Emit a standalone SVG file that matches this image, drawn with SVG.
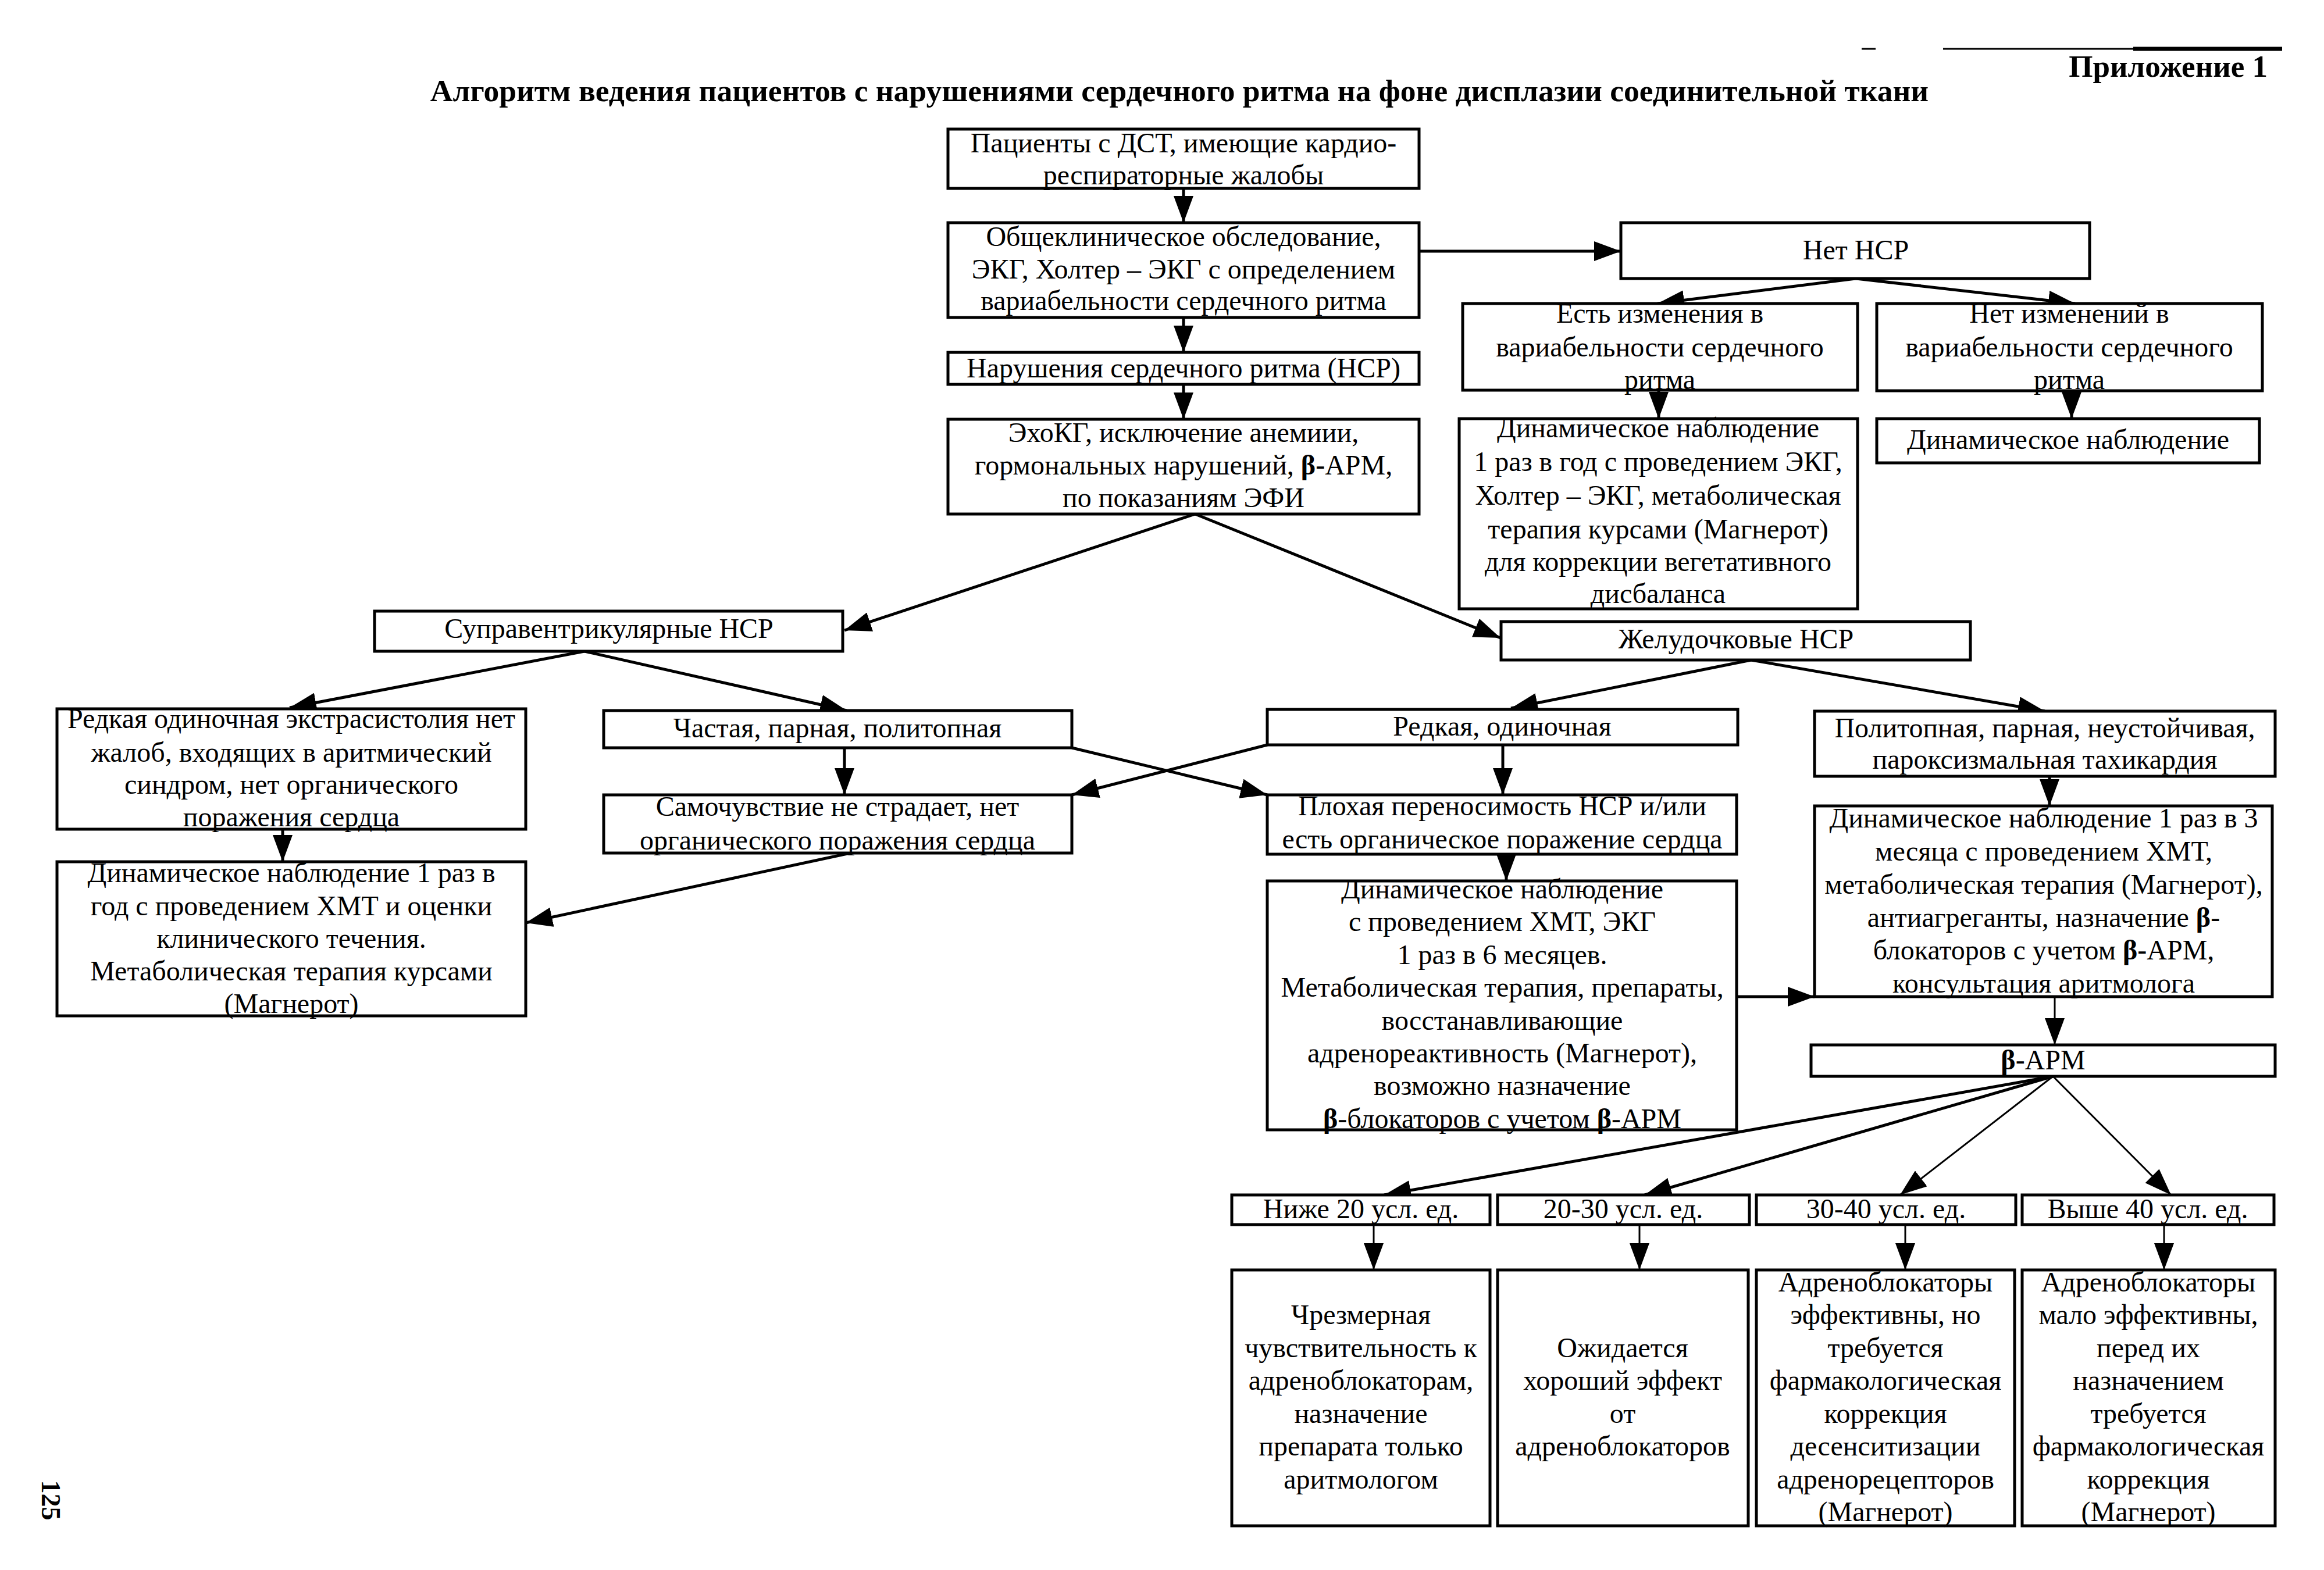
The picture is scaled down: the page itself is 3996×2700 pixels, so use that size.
<svg xmlns="http://www.w3.org/2000/svg" width="3996" height="2700" viewBox="0 0 3996 2700">
<style>
.b{fill:#fff;stroke:#000;stroke-width:5}
.t{font-family:"Liberation Serif","Times New Roman",serif;font-size:48px;text-anchor:middle;fill:#000}
.h{font-family:"Liberation Serif","Times New Roman",serif;font-weight:bold;fill:#000}
.c{stroke:#000;stroke-width:5;fill:none;marker-end:url(#ah)}
.c3{stroke:#000;stroke-width:3;fill:none;marker-end:url(#ah)}
.bb{font-weight:bold}
</style>
<defs>
<marker id="ah" markerUnits="userSpaceOnUse" markerWidth="46" markerHeight="34" refX="46" refY="17" orient="auto"><path d="M0,0 L46,17 L0,34 z" fill="#000"/></marker>
</defs>
<rect x="0" y="0" width="3996" height="2700" fill="#fff"/>
<g id="header">
<line x1="3201" y1="84" x2="3225" y2="84" stroke="#000" stroke-width="3"/>
<line x1="3341" y1="84" x2="3924" y2="84" stroke="#000" stroke-width="3"/>
<line x1="3668" y1="84" x2="3924" y2="84" stroke="#000" stroke-width="7"/>
<text class="h" x="3899" y="132" font-size="53" text-anchor="end">Приложение 1</text>
<text class="h" x="2028" y="174" font-size="53.5" text-anchor="middle">Алгоритм ведения пациентов с нарушениями сердечного ритма на фоне дисплазии соединительной ткани</text>
<text class="h" font-size="46" text-anchor="middle" transform="translate(72,2580) rotate(90)">125</text>
</g>
<g id="connectors">
<line class="c" x1="2035" y1="324" x2="2035" y2="383"/>
<line class="c" x1="2035" y1="546" x2="2035" y2="606"/>
<line class="c" x1="2035" y1="661" x2="2035" y2="721"/>
<line class="c" x1="2440" y1="432" x2="2787" y2="432"/>
<line class="c" x1="3191" y1="479" x2="2850" y2="522"/>
<line class="c" x1="3191" y1="479" x2="3568" y2="522"/>
<line class="c" x1="2852" y1="671" x2="2852" y2="720"/>
<line class="c" x1="3562" y1="672" x2="3562" y2="720"/>
<line class="c" x1="2055" y1="884" x2="1452" y2="1084"/>
<line class="c" x1="2055" y1="884" x2="2580" y2="1097"/>
<line class="c" x1="1005" y1="1120" x2="498" y2="1217"/>
<line class="c" x1="1005" y1="1120" x2="1456" y2="1222"/>
<line class="c" x1="486" y1="1426" x2="486" y2="1482"/>
<line class="c" x1="1452" y1="1286" x2="1452" y2="1367"/>
<line class="c" x1="1843" y1="1286" x2="2179" y2="1367"/>
<line class="c" x1="2179" y1="1281" x2="1843" y2="1367"/>
<line class="c" x1="1462" y1="1467" x2="904" y2="1587"/>
<line class="c" x1="3011" y1="1135" x2="2598" y2="1218"/>
<line class="c" x1="3011" y1="1135" x2="3516" y2="1223"/>
<line class="c" x1="2584" y1="1281" x2="2584" y2="1367"/>
<line class="c" x1="2590" y1="1469" x2="2590" y2="1515"/>
<line class="c" x1="3524" y1="1335" x2="3524" y2="1386"/>
<line class="c" x1="2986" y1="1714" x2="3120" y2="1714"/>
<line class="c3" x1="3533" y1="1714" x2="3533" y2="1797"/>
<line class="c" x1="3530" y1="1851" x2="2380" y2="2055"/>
<line class="c" x1="3530" y1="1851" x2="2828" y2="2055"/>
<line class="c3" x1="3530" y1="1851" x2="3267" y2="2055"/>
<line class="c3" x1="3530" y1="1851" x2="3733" y2="2055"/>
<line class="c3" x1="2362" y1="2106" x2="2362" y2="2184"/>
<line class="c3" x1="2819" y1="2106" x2="2819" y2="2184"/>
<line class="c3" x1="3276" y1="2106" x2="3276" y2="2184"/>
<line class="c3" x1="3721" y1="2106" x2="3721" y2="2184"/>
</g>
<g id="nA"><rect class="b" x="1630" y="222" width="810" height="102"/><text class="t" x="2035" y="262">Пациенты с ДСТ, имеющие кардио-</text><text class="t" x="2035" y="317">респираторные жалобы</text></g>
<g id="nB"><rect class="b" x="1630" y="383" width="810" height="163"/><text class="t" x="2035" y="423">Общеклиническое обследование,</text><text class="t" x="2035" y="479">ЭКГ, Холтер – ЭКГ с определением</text><text class="t" x="2035" y="533">вариабельности сердечного ритма</text></g>
<g id="nC"><rect class="b" x="1630" y="606" width="810" height="55"/><text class="t" x="2035" y="649">Нарушения сердечного ритма (НСР)</text></g>
<g id="nD"><rect class="b" x="1630" y="721" width="810" height="163"/><text class="t" x="2035" y="760">ЭхоКГ, исключение анемиии,</text><text class="t" x="2035" y="816">гормональных нарушений, <tspan class="bb">β</tspan>-АРМ,</text><text class="t" x="2035" y="872">по показаниям ЭФИ</text></g>
<g id="nE"><rect class="b" x="2787" y="383" width="806" height="96"/><text class="t" x="3191" y="446">Нет НСР</text></g>
<g id="nF"><rect class="b" x="2515" y="522" width="679" height="149"/><text class="t" x="2854" y="555">Есть изменения в</text><text class="t" x="2854" y="613">вариабельности сердечного</text><text class="t" x="2854" y="669">ритма</text></g>
<g id="nG"><rect class="b" x="3227" y="522" width="663" height="150"/><text class="t" x="3558" y="555">Нет изменений в</text><text class="t" x="3558" y="613">вариабельности сердечного</text><text class="t" x="3558" y="669">ритма</text></g>
<g id="nH"><rect class="b" x="2509" y="720" width="685" height="327"/><text class="t" x="2851" y="752">Динамическое наблюдение</text><text class="t" x="2851" y="810">1 раз в  год с проведением ЭКГ,</text><text class="t" x="2851" y="868">Холтер – ЭКГ, метаболическая</text><text class="t" x="2851" y="926">терапия курсами (Магнерот)</text><text class="t" x="2851" y="982">для коррекции вегетативного</text><text class="t" x="2851" y="1037">дисбаланса</text></g>
<g id="nI"><rect class="b" x="3227" y="720" width="658" height="76"/><text class="t" x="3556" y="772">Динамическое наблюдение</text></g>
<g id="nJ"><rect class="b" x="644" y="1051" width="805" height="69"/><text class="t" x="1047" y="1097">Суправентрикулярные НСР</text></g>
<g id="nK"><rect class="b" x="2581" y="1069" width="807" height="66"/><text class="t" x="2985" y="1115">Желудочковые НСР</text></g>
<g id="nL"><rect class="b" x="98" y="1219" width="806" height="207"/><text class="t" x="501" y="1252">Редкая одиночная экстрасистолия нет</text><text class="t" x="501" y="1310">жалоб, входящих в аритмический</text><text class="t" x="501" y="1365">синдром, нет органического</text><text class="t" x="501" y="1421">поражения сердца</text></g>
<g id="nM"><rect class="b" x="1038" y="1222" width="805" height="64"/><text class="t" x="1440" y="1268">Частая, парная, политопная</text></g>
<g id="nN"><rect class="b" x="1038" y="1367" width="805" height="100"/><text class="t" x="1440" y="1403">Самочувствие не страдает, нет</text><text class="t" x="1440" y="1461">органического поражения сердца</text></g>
<g id="nO"><rect class="b" x="98" y="1482" width="806" height="265"/><text class="t" x="501" y="1517">Динамическое наблюдение 1 раз в</text><text class="t" x="501" y="1574">год с проведением ХМТ и оценки</text><text class="t" x="501" y="1630">клинического течения.</text><text class="t" x="501" y="1686">Метаболическая терапия курсами</text><text class="t" x="501" y="1742">(Магнерот)</text></g>
<g id="nP"><rect class="b" x="2179" y="1220" width="809" height="61"/><text class="t" x="2583" y="1265">Редкая, одиночная</text></g>
<g id="nQ"><rect class="b" x="3120" y="1223" width="792" height="112"/><text class="t" x="3516" y="1268">Политопная, парная, неустойчивая,</text><text class="t" x="3516" y="1322">пароксизмальная тахикардия</text></g>
<g id="nR"><rect class="b" x="2179" y="1367" width="807" height="102"/><text class="t" x="2583" y="1402">Плохая переносимость НСР и/или</text><text class="t" x="2583" y="1459">есть органическое поражение сердца</text></g>
<g id="nS"><rect class="b" x="2179" y="1515" width="807" height="428"/><text class="t" x="2583" y="1545">Динамическое наблюдение</text><text class="t" x="2583" y="1601">с проведением ХМТ, ЭКГ</text><text class="t" x="2583" y="1658">1 раз в 6 месяцев.</text><text class="t" x="2583" y="1714">Метаболическая терапия, препараты,</text><text class="t" x="2583" y="1771">восстанавливающие</text><text class="t" x="2583" y="1827">адренореактивность (Магнерот),</text><text class="t" x="2583" y="1883">возможно назначение</text><text class="t" x="2583" y="1940"><tspan class="bb">β</tspan>-блокаторов с учетом <tspan class="bb">β</tspan>-АРМ</text></g>
<g id="nT"><rect class="b" x="3120" y="1386" width="787" height="328"/><text class="t" x="3514" y="1423">Динамическое наблюдение 1 раз в 3</text><text class="t" x="3514" y="1480">месяца с проведением ХМТ,</text><text class="t" x="3514" y="1537">метаболическая терапия (Магнерот),</text><text class="t" x="3514" y="1594">антиагреганты, назначение <tspan class="bb">β</tspan>-</text><text class="t" x="3514" y="1650">блокаторов с учетом <tspan class="bb">β</tspan>-АРМ,</text><text class="t" x="3514" y="1707">консультация аритмолога</text></g>
<g id="nU"><rect class="b" x="3114" y="1797" width="798" height="54"/><text class="t" x="3513" y="1839"><tspan class="bb">β</tspan>-АРМ</text></g>
<g id="nV1"><rect class="b" x="2118" y="2055" width="444" height="51"/><text class="t" x="2340" y="2095">Ниже 20 усл. ед.</text></g>
<g id="nV2"><rect class="b" x="2575" y="2055" width="433" height="51"/><text class="t" x="2791" y="2095">20-30 усл. ед.</text></g>
<g id="nV3"><rect class="b" x="3020" y="2055" width="446" height="51"/><text class="t" x="3243" y="2095">30-40 усл. ед.</text></g>
<g id="nV4"><rect class="b" x="3477" y="2055" width="433" height="51"/><text class="t" x="3693" y="2095">Выше 40 усл. ед.</text></g>
<g id="nW1"><rect class="b" x="2118" y="2184" width="444" height="440"/><text class="t" x="2340" y="2277">Чрезмерная</text><text class="t" x="2340" y="2334">чувствительность к</text><text class="t" x="2340" y="2390">адреноблокаторам,</text><text class="t" x="2340" y="2447">назначение</text><text class="t" x="2340" y="2503">препарата только</text><text class="t" x="2340" y="2560">аритмологом</text></g>
<g id="nW2"><rect class="b" x="2575" y="2184" width="431" height="440"/><text class="t" x="2790" y="2334">Ожидается</text><text class="t" x="2790" y="2390">хороший эффект</text><text class="t" x="2790" y="2447">от</text><text class="t" x="2790" y="2503">адреноблокаторов</text></g>
<g id="nW3"><rect class="b" x="3020" y="2184" width="444" height="440"/><text class="t" x="3242" y="2221">Адреноблокаторы</text><text class="t" x="3242" y="2277">эффективны, но</text><text class="t" x="3242" y="2334">требуется</text><text class="t" x="3242" y="2390">фармакологическая</text><text class="t" x="3242" y="2447">коррекция</text><text class="t" x="3242" y="2503">десенситизации</text><text class="t" x="3242" y="2560">адренорецепторов</text><text class="t" x="3242" y="2616">(Магнерот)</text></g>
<g id="nW4"><rect class="b" x="3477" y="2184" width="435" height="440"/><text class="t" x="3694" y="2221">Адреноблокаторы</text><text class="t" x="3694" y="2277">мало эффективны,</text><text class="t" x="3694" y="2334">перед их</text><text class="t" x="3694" y="2390">назначением</text><text class="t" x="3694" y="2447">требуется</text><text class="t" x="3694" y="2503">фармакологическая</text><text class="t" x="3694" y="2560">коррекция</text><text class="t" x="3694" y="2616">(Магнерот)</text></g>
</svg>
